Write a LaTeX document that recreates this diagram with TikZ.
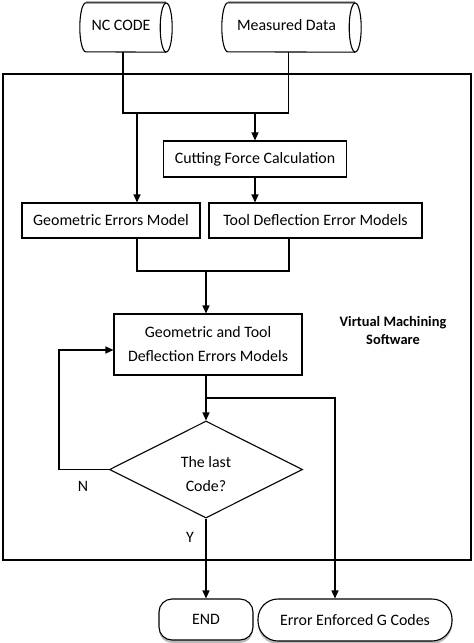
\documentclass[tikz,border=0pt]{standalone}
\usepackage{fontspec}
\setmainfont{Carlito}
\usetikzlibrary{arrows.meta,shapes.geometric,calc,shadows}
\begin{document}
\begin{tikzpicture}[x=1pt,y=-1pt,
  txt/.style={font=\fontsize{15.9}{24}\selectfont, align=center, text=black},
  box/.style={txt, draw, line width=1.1pt, inner sep=0pt, fill=white},
  conn/.style={line width=1.3pt},
  arr/.style={conn, -{Triangle[length=8pt,width=7pt]}},
  cyl/.style={txt, inner sep=0pt, minimum height=49pt},
  term/.style={box, general shadow={fill=gray!55, shadow yshift=-3pt}}]
\useasboundingbox (0,0) rectangle (474,643);
% frame
\node[draw, line width=1.8pt, minimum width=468pt, minimum height=486pt, inner sep=0pt] (vm) at (237,317) {};
% cylinders
\node[cyl, minimum width=86pt] (nc) at (123,27.5) {};
\node[cyl, minimum width=133pt] (md) at (288.5,27.5) {};
\foreach \c in {nc,md}{
  \fill[gray!60] ($(\c.north west)+(6,-2)$) rectangle ($(\c.north east)+(0,0)$);
  \draw[line width=1.1pt, fill=white] (\c.north east) -- ($(\c.north west)+(6,0)$)
     arc[start angle=90, end angle=270, x radius=6pt, y radius=24.5pt] -- (\c.south east);
  \draw[line width=1.1pt] (\c.east) ellipse [x radius=6pt, y radius=24.5pt];
}
\node[txt] at ($(nc.center)+(-2,-2)$) {NC CODE};
\node[txt] at ($(md.center)+(-2,-2)$) {Measured Data};
% boxes
\node[box, minimum width=183pt, minimum height=36pt] (cf) at (255,159) {Cutting Force Calculation};
\node[box, minimum width=178pt, minimum height=35pt] (ge) at (111,220.5) {Geometric Errors Model};
\node[box, minimum width=213pt, minimum height=35pt] (td) at (315.5,220.5) {Tool Deflection Error Models};
\node[box, minimum width=188pt, minimum height=61pt] (gt) at (208,344.5) {Geometric and Tool\\Deflection Errors Models};
\node[draw, diamond, line width=1.1pt, inner sep=0pt, minimum width=193pt, minimum height=97pt] (dec) at (206,469.5) {};
\node[txt] (dectext) at (206,474) {The last\\Code?};
\node[txt, font=\fontsize{14.4}{18}\bfseries] (vms) at (393,330.5) {Virtual Machining\\Software};
% terminals
\node[term, rounded corners=13pt, minimum width=94pt, minimum height=41pt] (end) at (206,619.5) {END};
\node[term, rounded corners=20pt, minimum width=194pt, minimum height=42pt] (eg) at (355,620) {Error Enforced G Codes};
% junction coordinates
\coordinate (jR) at (288.5,113);
\coordinate (jL) at (137,113);
\coordinate (ja) at (137,271);
\coordinate (jb) at (289,271);
\coordinate (jc) at (335,398);
\coordinate (jn) at (59,350);
% connectors
\draw[conn] (nc.south) |- (jR) -- (md.south);
\draw[arr] (cf.north |- jR) -- (cf.north);
\draw[arr] (jL) -- (jL |- ge.north);
\draw[arr] (cf.south) -- (cf.south |- td.north);
\draw[conn] (ja |- ge.south) -- (ja) -- (jb) -- (jb |- td.south);
\draw[arr] (dec.north |- ja) -- (dec.north |- gt.north);
\draw[arr] (dec.north |- gt.south) -- (dec.north);
\draw[arr] (dec.north |- jc) -- (jc) -- (jc |- eg.north);
\draw[arr] (dec.west) -| (jn) -- (jn -| gt.west);
\draw[arr] (dec.south) -- (end.north);
% labels
\node[txt] (nlab) at (83,486) {N};
\node[txt] (ylab) at (190,537) {Y};
\end{tikzpicture}
\end{document}
